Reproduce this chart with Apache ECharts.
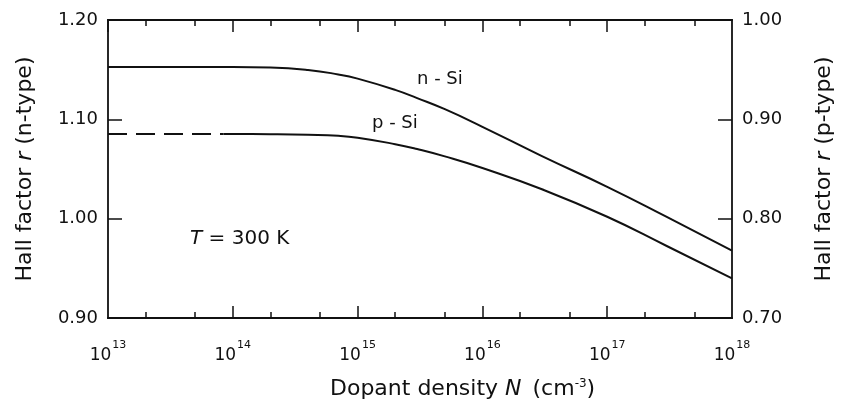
<!DOCTYPE html>
<html>
<head>
<meta charset="utf-8">
<script src="https://cdn.jsdelivr.net/npm/echarts@6/dist/echarts.min.js"></script>
<style>
  html, body { margin: 0; padding: 0; background: #fff; }
  #chart { width: 844px; height: 412px; }
</style>
</head>
<body>
<div id="chart"></div>
<script>
// dopant density (cm^-3) where the curves were read
var densities = [1e13, 3e13, 1e14, 2e14, 4e14, 7e14, 1e15, 2e15, 3e15, 5e15, 1e16, 3e16, 1e17, 3e17, 1e18]
// Hall factor, n-type (left axis)
var nSi = [1.1527, 1.1527, 1.1527, 1.1522, 1.1497, 1.1452, 1.141, 1.1297, 1.1214, 1.1102, 1.0925, 1.063, 1.0321, 1.0018, 0.9679]
// Hall factor, p-type (right axis); the part below pDashEnd is dashed
var pSi = [0.8852, 0.8852, 0.8852, 0.885, 0.8844, 0.8834, 0.8815, 0.875, 0.8701, 0.8627, 0.851, 0.8296, 0.8019, 0.7725, 0.7399]
var pDashEnd = 8.4e13

var decades = [1e13, 1e14, 1e15, 1e16, 1e17, 1e18]
var minorTicks = [2e13, 5e13, 2e14, 5e14, 2e15, 5e15, 2e16, 5e16, 2e17, 5e17]

var font = 'DejaVu Sans'
var ink = '#111'

var pts = function (ys) {
  return densities.map(function (d, i) { return [d, ys[i]] })
}
var pDash = []
var pSolid = [[pDashEnd, pSi[0]]]
densities.forEach(function (d, i) {
  if (d <= pDashEnd) pDash.push([d, pSi[i]])
  else pSolid.push([d, pSi[i]])
})
pDash.push([pDashEnd, pSi[0]])

var lineAxis = { show: true, lineStyle: { color: ink, width: 1.8 } }

function xAxisOf(position, ticks, len, labels) {
  return {
    type: 'log',
    logBase: 10,
    min: 1e13,
    max: 1e18,
    position: position,
    axisLine: lineAxis,
    axisTick: { show: true, inside: true, length: len, customValues: ticks, lineStyle: { color: ink, width: 1.5 } },
    axisLabel: labels ? {
      show: true,
      showMaxLabel: true,
      showMinLabel: true,
      margin: 22,
      formatter: function (v) {
        return '{b|10}{s|' + Math.round(Math.log10(v)) + '}'
      },
      rich: {
        b: { fontFamily: font, fontSize: 17, color: ink, verticalAlign: 'bottom', lineHeight: 24 },
        s: { fontFamily: font, fontSize: 11, color: ink, verticalAlign: 'top', lineHeight: 24, padding: [0, 0, 0, 1] },
      },
    } : { show: false },
    splitLine: { show: false },
    minorTick: { show: false },
  }
}

function yAxisOf(position, min, name, gap) {
  return {
    type: 'value',
    min: min,
    max: min + 0.3,
    interval: 0.1,
    position: position,
    name: name,
    nameLocation: 'middle',
    nameRotate: 90,
    nameGap: gap,
    nameTextStyle: {
      fontFamily: font,
      fontSize: 22,
      color: ink,
      rich: { i: { fontFamily: font, fontSize: 22, fontStyle: 'italic', color: ink } },
    },
    axisLine: lineAxis,
    axisTick: { show: true, inside: true, length: 14, lineStyle: { color: ink, width: 1.5 } },
    axisLabel: {
      fontFamily: font,
      fontSize: 18,
      color: ink,
      margin: 10,
      formatter: function (v) { return v.toFixed(2) },
    },
    splitLine: { show: false },
  }
}

var chart = echarts.init(document.getElementById('chart'))
var option = {
  backgroundColor: '#fff',
  animation: false,
  grid: { left: 108, right: 112, top: 20, bottom: 94 },
  xAxis: [
    xAxisOf('bottom', decades, 12, true),
    xAxisOf('bottom', minorTicks, 6, false),
    xAxisOf('top', decades, 12, false),
    xAxisOf('top', minorTicks, 6, false),
  ],
  yAxis: [
    yAxisOf('left', 0.9, 'Hall factor {i|r} (n-type)', 72),
    yAxisOf('right', 0.7, 'Hall factor {i|r} (p-type)', 81),
  ],
  series: [
    {
      name: 'n-Si',
      type: 'line',
      xAxisIndex: 0,
      yAxisIndex: 0,
      data: pts(nSi),
      smooth: 0.5,
      symbol: 'none',
      lineStyle: { color: ink, width: 2 },
    },
    {
      name: 'p-Si',
      type: 'line',
      xAxisIndex: 0,
      yAxisIndex: 1,
      data: pSolid,
      smooth: 0.5,
      symbol: 'none',
      lineStyle: { color: ink, width: 2 },
    },
    {
      name: 'p-Si (extrapolated)',
      type: 'line',
      xAxisIndex: 0,
      yAxisIndex: 1,
      data: pDash,
      symbol: 'none',
      lineStyle: { color: ink, width: 2, type: [19, 9] },
    },
  ],
  graphic: [
    {
      type: 'text',
      left: 417,
      top: 70,
      style: { text: 'n - Si', fontFamily: font, fontSize: 18, fill: ink },
    },
    {
      type: 'text',
      left: 372,
      top: 114,
      style: { text: 'p - Si', fontFamily: font, fontSize: 18, fill: ink },
    },
    {
      type: 'text',
      left: 190,
      top: 229,
      style: {
        text: '{i|T} = 300 K',
        fontFamily: font,
        fontSize: 20,
        fill: ink,
        rich: { i: { fontFamily: font, fontSize: 20, fontStyle: 'italic', fill: ink } },
      },
    },
    {
      type: 'text',
      left: 330,
      top: 378,
      style: {
        text: 'Dopant density {i|N} (cm{s|-3})',
        fontFamily: font,
        fontSize: 22,
        fill: ink,
        rich: {
          i: { fontFamily: font, fontSize: 22, fontStyle: 'italic', fill: ink, padding: [0, 4, 0, 0] },
          s: { fontFamily: font, fontSize: 12, fill: ink, verticalAlign: 'top' },
        },
      },
    },
  ],
}
chart.setOption(option)
</script>
</body>
</html>
